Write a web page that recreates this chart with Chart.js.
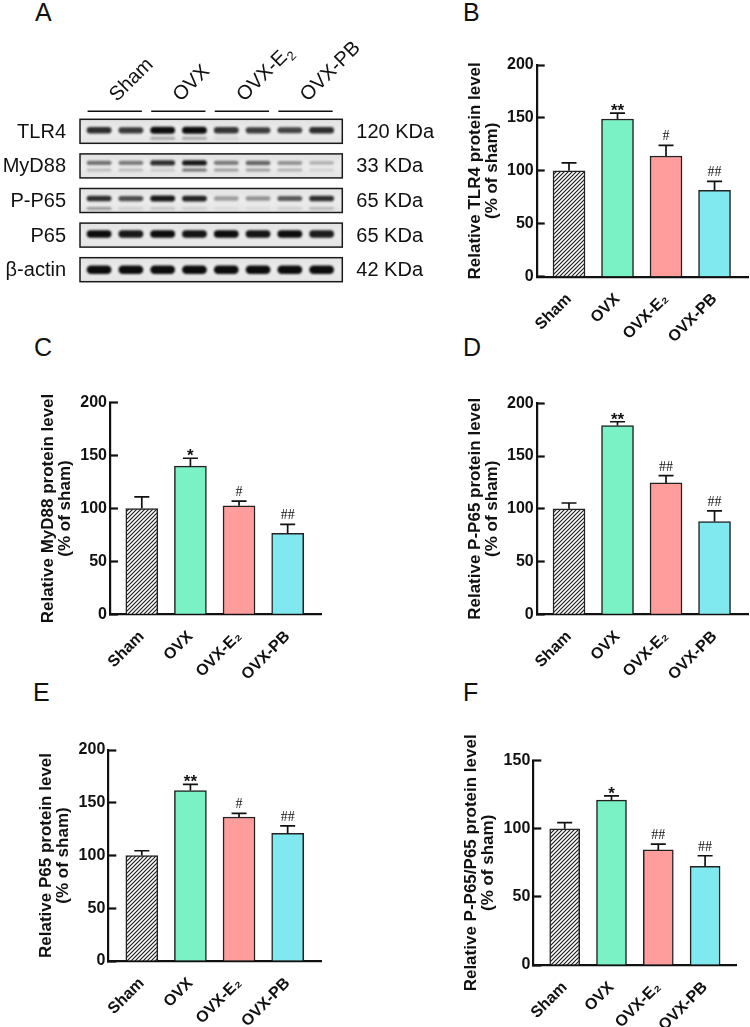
<!DOCTYPE html>
<html><head><meta charset="utf-8">
<script src="https://cdn.jsdelivr.net/npm/chart.js@4.4.0/dist/chart.umd.min.js"></script>
<style>
html,body{margin:0;padding:0;background:#fff;}
#fig{position:relative;width:750px;height:1027px;overflow:hidden;background:#fff;font-family:'Liberation Sans',Arial,sans-serif;}
canvas{position:absolute;}
.lt{position:absolute;font-size:25px;line-height:1;color:#111;}
</style></head><body>
<div id="fig">
 <div class="lt" style="left:35px;top:0px">A</div>
 <div class="lt" style="left:463px;top:0px">B</div>
 <div class="lt" style="left:34px;top:335px">C</div>
 <div class="lt" style="left:463px;top:335px">D</div>
 <div class="lt" style="left:33px;top:680px">E</div>
 <div class="lt" style="left:463px;top:680px">F</div>
 <canvas id="cA" width="440" height="300" style="left:0;top:0"></canvas>
 <canvas id="cB" width="330" height="310" style="left:420px;top:40px"></canvas>
 <canvas id="cC" width="330" height="316" style="left:0;top:370px"></canvas>
 <canvas id="cD" width="330" height="316" style="left:420px;top:370px"></canvas>
 <canvas id="cE" width="330" height="332" style="left:0;top:700px"></canvas>
 <canvas id="cF" width="330" height="340" style="left:420px;top:700px"></canvas>
</div>
<script>
// ---------- DATA ----------
const groups = ['Sham', 'OVX', 'OVX-E₂', 'OVX-PB'];
const blotGroups = ['Sham', 'OVX', 'OVX-E2', 'OVX-PB'];
const blotProteins = ['TLR4', 'MyD88', 'P-P65', 'P65', 'β-actin'];
const blotSizes = ['120 KDa', '33 KDa', '65 KDa', '65 KDa', '42 KDa'];
// band intensities (0-1), 8 lanes, 2 per group
const bandTLR4    = [0.85, 0.80, 1.00, 1.00, 0.82, 0.78, 0.75, 0.85];
const bandTLR4Low = [0.00, 0.00, 0.30, 0.30, 0.08, 0.00, 0.00, 0.00];
const bandMyD88    = [0.55, 0.50, 0.85, 0.95, 0.50, 0.60, 0.40, 0.25];
const bandMyD88Low = [0.20, 0.20, 0.15, 0.55, 0.35, 0.35, 0.25, 0.10];
const bandPP65    = [0.85, 0.70, 0.95, 0.90, 0.35, 0.40, 0.65, 0.85];
const bandPP65Low = [0.35, 0.10, 0.15, 0.10, 0.05, 0.05, 0.10, 0.20];
const bandP65     = [1.00, 0.95, 1.00, 0.97, 1.00, 0.97, 1.00, 0.93];
const bandActin   = [1.00, 1.00, 1.00, 1.00, 1.00, 1.00, 1.00, 1.00];

const tlr4Mean  = [100, 149, 114, 81.5];
const tlr4Sem   = [7.5, 5.5, 10, 8.5];
const tlr4Sig   = ['', '**', '#', '##'];
const myd88Mean = [100, 140, 102.5, 76.5];
const myd88Sem  = [11, 7.5, 4.5, 8.5];
const myd88Sig  = ['', '*', '#', '##'];
const pp65Mean  = [100, 179, 124.5, 88];
const pp65Sem   = [5.5, 3.5, 7, 10];
const pp65Sig   = ['', '**', '##', '##'];
const p65Mean   = [100, 161.5, 136.5, 121];
const p65Sem    = [4.5, 6, 3.5, 7];
const p65Sig    = ['', '**', '#', '##'];
const ratioMean = [100, 121, 84.5, 72.5];
const ratioSem  = [4.5, 3.2, 4.2, 7.7];
const ratioSig  = ['', '*', '##', '##'];

// ---------- STYLE ----------
Chart.defaults.font.family = "'Liberation Sans', Arial, sans-serif";
Chart.defaults.color = '#111';
const INK = '#111';
const barColors = ['hatch', '#7af2c5', '#ff9c9c', '#7fe9ef'];

function makeHatch(ctx) {
  const c = document.createElement('canvas'); c.width = 4; c.height = 4;
  const g = c.getContext('2d');
  g.fillStyle = '#fff'; g.fillRect(0, 0, 4, 4);
  g.strokeStyle = '#1a1a1a'; g.lineWidth = 1.15;
  g.beginPath();
  g.moveTo(0, 4); g.lineTo(4, 0);
  g.moveTo(-1, 1); g.lineTo(1, -1);
  g.moveTo(3, 5); g.lineTo(5, 3);
  g.stroke();
  return ctx.createPattern(c, 'repeat');
}

const errPlugin = {
  id: 'errs',
  afterDatasetsDraw(chart, args, o) {
    const {ctx} = chart; const x = chart.scales.x, y = chart.scales.y;
    ctx.save();
    ctx.strokeStyle = INK; ctx.fillStyle = INK; ctx.lineWidth = 1.7;
    o.means.forEach((m, i) => {
      const px = x.getPixelForValue(i);
      const y0 = y.getPixelForValue(m), y1 = y.getPixelForValue(m + o.sems[i]);
      ctx.beginPath();
      ctx.moveTo(px, y0); ctx.lineTo(px, y1);
      ctx.moveTo(px - o.cap / 2, y1); ctx.lineTo(px + o.cap / 2, y1);
      ctx.stroke();
      const s = o.sig[i];
      if (!s) return;
      ctx.textAlign = 'center'; ctx.textBaseline = 'alphabetic';
      if (s[0] === '*') { ctx.font = "bold 17px 'Liberation Sans'"; ctx.fillText(s, px, y1 + 3); }
      else { ctx.font = "14px 'Liberation Serif'"; ctx.fillText(s, px, y1 - 5); }
    });
    ctx.restore();
  }
};

const W_Y = 70, H_X = 70;
function barPanel(id, L, means, sems, sig, title, yMax) {
  const cv = document.getElementById(id);
  const ctx = cv.getContext('2d');
  const hatch = makeHatch(ctx);
  const cw = cv.width, ch = cv.height;
  const pad = {
    left: L.axisX - L.cl - W_Y,
    right: L.cl + cw - L.axisRight,
    top: L.yTop - L.ct,
    bottom: L.ct + ch - L.yBottom - H_X
  };
  return new Chart(ctx, {
    type: 'bar',
    data: {
      datasets: [{
        data: means.map((m, i) => ({x: i, y: m})),
        backgroundColor: barColors.map(c => c === 'hatch' ? hatch : c),
        borderColor: '#222', borderWidth: 1.5,
        barThickness: L.barW
      }]
    },
    options: {
      responsive: false, animation: false,
      layout: {padding: pad},
      plugins: {legend: {display: false}, tooltip: {enabled: false},
        errs: {means, sems, sig, cap: 15}},
      scales: {
        x: {
          type: 'linear', min: L.xmin, max: L.xmax, offset: false,
          afterBuildTicks: s => { s.ticks = groups.map((g, i) => ({value: i})); },
          afterFit: s => { s.height = H_X; s.paddingLeft = 0; s.paddingRight = 0; },
          ticks: {callback: v => groups[v], minRotation: 45, maxRotation: 45, autoSkip: false,
            font: {size: 16, weight: 'bold'}, color: INK, padding: 13},
          grid: {display: false, drawTicks: false},
          border: {display: true, width: 2.2, color: INK}
        },
        y: {
          min: 0, max: yMax,
          afterFit: s => { s.width = W_Y; s.paddingTop = 0; s.paddingBottom = 0; },
          ticks: {stepSize: 50, font: {size: 16, weight: 'bold'}, color: INK, padding: 11},
          grid: {drawOnChartArea: false, drawTicks: true, tickLength: -8, tickWidth: 2.2, tickColor: INK},
          border: {display: true, width: 2.2, color: INK},
          title: {display: true, text: [title, '(% of sham)'], color: INK, padding: 0,
            font: {size: 17, weight: 'bold', lineHeight: 1.0}}
        }
      }
    },
    plugins: [errPlugin]
  });
}

barPanel('cB', {cl: 420, ct: 40, axisX: 536.7, axisRight: 748, yTop: 65, yBottom: 276.7, xmin: -0.666, xmax: 3.69, barW: 32},
  tlr4Mean, tlr4Sem, tlr4Sig, 'Relative TLR4 protein level', 200);
barPanel('cC', {cl: 0, ct: 370, axisX: 110, axisRight: 321.7, yTop: 402.7, yBottom: 614.3, xmin: -0.654, xmax: 3.70, barW: 32},
  myd88Mean, myd88Sem, myd88Sig, 'Relative MyD88 protein level', 200);
barPanel('cD', {cl: 420, ct: 370, axisX: 536.7, axisRight: 748, yTop: 403.3, yBottom: 614.3, xmin: -0.666, xmax: 3.69, barW: 32},
  pp65Mean, pp65Sem, pp65Sig, 'Relative P-P65 protein level', 200);
barPanel('cE', {cl: 0, ct: 700, axisX: 108.3, axisRight: 321.7, yTop: 750, yBottom: 961, xmin: -0.689, xmax: 3.70, barW: 32},
  p65Mean, p65Sem, p65Sig, 'Relative P65 protein level', 200);
barPanel('cF', {cl: 420, ct: 700, axisX: 533.3, axisRight: 736.7, yTop: 760.7, yBottom: 965, xmin: -0.671, xmax: 3.675, barW: 30},
  ratioMean, ratioSem, ratioSig, 'Relative P-P65/P65 protein level', 150);

// ---------- Western blot (panel A) ----------
const blotRows = [
  {main: bandTLR4, low: bandTLR4Low, h: a => 3.5 + 3.5 * a, off: -1, lowOff: 7},
  {main: bandMyD88, low: bandMyD88Low, h: a => 3 + 2.5 * a, off: -3, lowOff: 4},
  {main: bandPP65, low: bandPP65Low, h: a => 3.5 + 2.5 * a, off: -2, lowOff: 8},
  {main: bandP65, low: null, h: a => 7.5, off: -1},
  {main: bandActin, low: null, h: a => 8.5, off: 0}
];
const blotPlugin = {
  id: 'blot',
  afterDraw(chart) {
    const {ctx} = chart; const x = chart.scales.x, y = chart.scales.y;
    const L = chart.chartArea.left, R = chart.chartArea.right;
    ctx.save();
    blotRows.forEach((row, r) => {
      const yc = y.getPixelForValue(r);
      const top = y.getPixelForValue(r - 0.347), bot = y.getPixelForValue(r + 0.347);
      const gr = ctx.createLinearGradient(0, top, 0, bot);
      gr.addColorStop(0, '#e2e2e2'); gr.addColorStop(0.5, '#ececec'); gr.addColorStop(1, '#e4e4e4');
      ctx.fillStyle = gr; ctx.fillRect(L, top, R - L, bot - top);
      const drawBand = (lane, a, h, dy) => {
        if (a <= 0.02) return;
        const xc = x.getPixelForValue(lane + 1);
        const hw = x.getPixelForValue(lane + 1.39) - xc;
        ctx.filter = 'blur(0.9px)';
        ctx.fillStyle = `rgba(12,12,12,${Math.min(1, a)})`;
        ctx.beginPath();
        ctx.roundRect(xc - hw, yc + dy - h / 2, hw * 2, h, h / 2);
        ctx.fill();
        ctx.filter = 'none';
      };
      row.main.forEach((a, l) => drawBand(l, a, row.h(a), row.off));
      if (row.low) row.low.forEach((a, l) => drawBand(l, a, 3, row.lowOff));
      ctx.strokeStyle = '#1a1a1a'; ctx.lineWidth = 1.5;
      ctx.strokeRect(L, top, R - L, bot - top);
      ctx.fillStyle = INK; ctx.font = "20px 'Liberation Sans'"; ctx.textBaseline = 'middle';
      ctx.textAlign = 'right'; ctx.fillText(blotProteins[r], L - 14, yc + 1);
      ctx.textAlign = 'left'; ctx.fillText(blotSizes[r], R + 14, yc + 1);
    });
    // group lines and labels
    const lineY = chart.chartArea.top - 8;
    blotGroups.forEach((g, i) => {
      const x1 = x.getPixelForValue(2 * i + 1), x2 = x.getPixelForValue(2 * i + 2);
      ctx.strokeStyle = INK; ctx.lineWidth = 1.6;
      ctx.beginPath(); ctx.moveTo(x1 - 11.5, lineY); ctx.lineTo(x2 + 11, lineY); ctx.stroke();
      const cx = (x1 + x2) / 2;
      ctx.save();
      ctx.translate(cx + 2, lineY - 9);
      ctx.rotate(-Math.PI / 4);
      ctx.fillStyle = INK; ctx.textAlign = 'left'; ctx.textBaseline = 'alphabetic';
      ctx.font = "20px 'Liberation Sans'";
      if (g.endsWith('E2')) {
        const t = g.slice(0, -1);
        ctx.fillText(t, 0, 0);
        const w = ctx.measureText(t).width;
        ctx.font = "13px 'Liberation Sans'";
        ctx.fillText('2', w + 0.5, 5);
      } else ctx.fillText(g, 0, 0);
      ctx.restore();
    });
    ctx.restore();
  }
};
new Chart(document.getElementById('cA').getContext('2d'), {
  type: 'scatter',
  data: {datasets: [{data: [], pointRadius: 0}]},
  options: {
    responsive: false, animation: false,
    layout: {padding: {left: 80, right: 97.7, top: 119.3, bottom: 18.3}},
    scales: {
      x: {type: 'linear', min: 0.4, max: 8.65, display: false},
      y: {type: 'linear', min: -0.347, max: 4.347, reverse: true, display: false}
    },
    plugins: {legend: {display: false}, tooltip: {enabled: false}}
  },
  plugins: [blotPlugin]
});
</script>
</body></html>
